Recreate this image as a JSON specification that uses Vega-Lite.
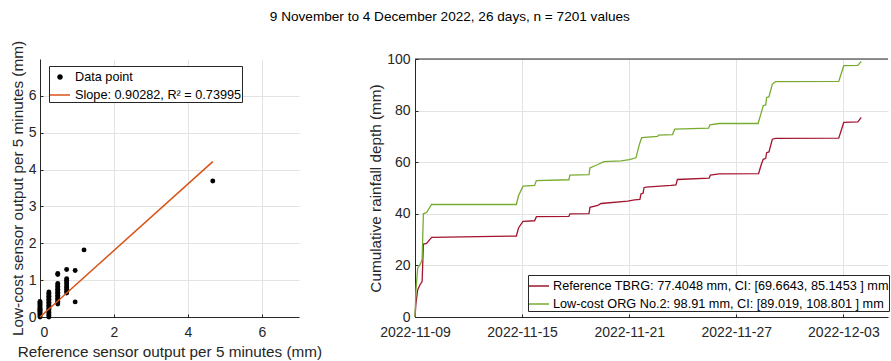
{
  "$schema": "https://vega.github.io/schema/vega-lite/v6.json",
  "background": "white",
  "padding": {"left": 10, "top": 9, "right": 0, "bottom": 0},
  "title": {"text": "9 November to 4 December 2022, 26 days, n = 7201 values", "fontSize": 13.6, "fontWeight": "normal", "color": "#000000", "anchor": "middle", "offset": 17},
  "config": {
    "font": "Liberation Sans",
    "view": {"stroke": null},
    "axis": {"labelFont": "Liberation Sans", "labelFontSize": 14, "labelColor": "#262626", "titleFont": "Liberation Sans", "titleFontSize": 15.3, "titleFontWeight": "normal", "titleColor": "#262626", "domainColor": "#262626", "domainWidth": 1, "gridColor": "#e3e3e3", "gridWidth": 1, "tickColor": "#262626", "tickSize": -3, "labelPadding": 8},
    "legend": {"labelFont": "Liberation Sans", "labelFontSize": 12.7, "labelColor": "#000000", "labelLimit": 600, "strokeColor": "#262626", "fillColor": "#ffffff", "padding": 0, "cornerRadius": 0, "symbolStrokeWidth": 1.5}
  },
  "datasets": {
    "scatter": [
      {"ref": 0, "low": 0}, {"ref": 0, "low": 0.03}, {"ref": 0, "low": 0.06}, {"ref": 0, "low": 0.09}, {"ref": 0, "low": 0.12}, {"ref": 0, "low": 0.15}, {"ref": 0, "low": 0.18}, {"ref": 0, "low": 0.21}, {"ref": 0, "low": 0.24}, {"ref": 0, "low": 0.27}, {"ref": 0, "low": 0.3}, {"ref": 0, "low": 0.33}, {"ref": 0, "low": 0.36}, {"ref": 0, "low": 0.39}, {"ref": 0, "low": 0.42},
      {"ref": 0.24, "low": 0}, {"ref": 0.24, "low": 0.04}, {"ref": 0.24, "low": 0.08}, {"ref": 0.24, "low": 0.12}, {"ref": 0.24, "low": 0.16}, {"ref": 0.24, "low": 0.2}, {"ref": 0.24, "low": 0.24}, {"ref": 0.24, "low": 0.28}, {"ref": 0.24, "low": 0.32}, {"ref": 0.24, "low": 0.36}, {"ref": 0.24, "low": 0.4}, {"ref": 0.24, "low": 0.44}, {"ref": 0.24, "low": 0.48}, {"ref": 0.24, "low": 0.52}, {"ref": 0.24, "low": 0.56}, {"ref": 0.24, "low": 0.6}, {"ref": 0.24, "low": 0.64}, {"ref": 0.24, "low": 0.68},
      {"ref": 0.48, "low": 0.35}, {"ref": 0.48, "low": 0.39}, {"ref": 0.48, "low": 0.43}, {"ref": 0.48, "low": 0.47}, {"ref": 0.48, "low": 0.51}, {"ref": 0.48, "low": 0.55}, {"ref": 0.48, "low": 0.59}, {"ref": 0.48, "low": 0.63}, {"ref": 0.48, "low": 0.67}, {"ref": 0.48, "low": 0.71}, {"ref": 0.48, "low": 0.75}, {"ref": 0.48, "low": 0.79}, {"ref": 0.48, "low": 0.83}, {"ref": 0.48, "low": 0.87}, {"ref": 0.48, "low": 0.91}, {"ref": 0.48, "low": 1.15}, {"ref": 0.48, "low": 1.18},
      {"ref": 0.72, "low": 0.65}, {"ref": 0.72, "low": 0.7}, {"ref": 0.72, "low": 0.75}, {"ref": 0.72, "low": 0.8}, {"ref": 0.72, "low": 0.85}, {"ref": 0.72, "low": 0.9}, {"ref": 0.72, "low": 0.95}, {"ref": 0.72, "low": 1.0}, {"ref": 0.72, "low": 1.04}, {"ref": 0.72, "low": 1.29},
      {"ref": 0.95, "low": 0.41}, {"ref": 0.95, "low": 1.26},
      {"ref": 1.19, "low": 1.82},
      {"ref": 4.67, "low": 3.69}
    ],
    "fit": [
      {"ref": 0, "low": 0},
      {"ref": 4.67, "low": 4.216}
    ],
    "cum": [
      {"t": "2022-11-09T00:00", "v": 0, "gauge": "Reference TBRG: 77.4048 mm, CI: [69.6643, 85.1453 ] mm"},
      {"t": "2022-11-09T01:12", "v": 5, "gauge": "Reference TBRG: 77.4048 mm, CI: [69.6643, 85.1453 ] mm"},
      {"t": "2022-11-09T03:36", "v": 10.5, "gauge": "Reference TBRG: 77.4048 mm, CI: [69.6643, 85.1453 ] mm"},
      {"t": "2022-11-09T06:43", "v": 12.5, "gauge": "Reference TBRG: 77.4048 mm, CI: [69.6643, 85.1453 ] mm"},
      {"t": "2022-11-09T08:53", "v": 13.4, "gauge": "Reference TBRG: 77.4048 mm, CI: [69.6643, 85.1453 ] mm"},
      {"t": "2022-11-09T09:36", "v": 13.8, "gauge": "Reference TBRG: 77.4048 mm, CI: [69.6643, 85.1453 ] mm"},
      {"t": "2022-11-09T11:17", "v": 28.3, "gauge": "Reference TBRG: 77.4048 mm, CI: [69.6643, 85.1453 ] mm"},
      {"t": "2022-11-09T15:36", "v": 28.5, "gauge": "Reference TBRG: 77.4048 mm, CI: [69.6643, 85.1453 ] mm"},
      {"t": "2022-11-09T22:19", "v": 30.9, "gauge": "Reference TBRG: 77.4048 mm, CI: [69.6643, 85.1453 ] mm"},
      {"t": "2022-11-14T16:19", "v": 31.4, "gauge": "Reference TBRG: 77.4048 mm, CI: [69.6643, 85.1453 ] mm"},
      {"t": "2022-11-14T19:12", "v": 34.5, "gauge": "Reference TBRG: 77.4048 mm, CI: [69.6643, 85.1453 ] mm"},
      {"t": "2022-11-15T01:12", "v": 37.1, "gauge": "Reference TBRG: 77.4048 mm, CI: [69.6643, 85.1453 ] mm"},
      {"t": "2022-11-15T16:48", "v": 37.3, "gauge": "Reference TBRG: 77.4048 mm, CI: [69.6643, 85.1453 ] mm"},
      {"t": "2022-11-15T19:12", "v": 38.9, "gauge": "Reference TBRG: 77.4048 mm, CI: [69.6643, 85.1453 ] mm"},
      {"t": "2022-11-17T14:53", "v": 39.0, "gauge": "Reference TBRG: 77.4048 mm, CI: [69.6643, 85.1453 ] mm"},
      {"t": "2022-11-17T16:19", "v": 40.0, "gauge": "Reference TBRG: 77.4048 mm, CI: [69.6643, 85.1453 ] mm"},
      {"t": "2022-11-18T18:00", "v": 40.1, "gauge": "Reference TBRG: 77.4048 mm, CI: [69.6643, 85.1453 ] mm"},
      {"t": "2022-11-18T19:12", "v": 42.5, "gauge": "Reference TBRG: 77.4048 mm, CI: [69.6643, 85.1453 ] mm"},
      {"t": "2022-11-19T05:46", "v": 43.3, "gauge": "Reference TBRG: 77.4048 mm, CI: [69.6643, 85.1453 ] mm"},
      {"t": "2022-11-19T10:19", "v": 44.0, "gauge": "Reference TBRG: 77.4048 mm, CI: [69.6643, 85.1453 ] mm"},
      {"t": "2022-11-20T22:05", "v": 44.9, "gauge": "Reference TBRG: 77.4048 mm, CI: [69.6643, 85.1453 ] mm"},
      {"t": "2022-11-21T06:58", "v": 45.4, "gauge": "Reference TBRG: 77.4048 mm, CI: [69.6643, 85.1453 ] mm"},
      {"t": "2022-11-21T14:24", "v": 45.6, "gauge": "Reference TBRG: 77.4048 mm, CI: [69.6643, 85.1453 ] mm"},
      {"t": "2022-11-21T15:50", "v": 47.7, "gauge": "Reference TBRG: 77.4048 mm, CI: [69.6643, 85.1453 ] mm"},
      {"t": "2022-11-21T18:43", "v": 48.0, "gauge": "Reference TBRG: 77.4048 mm, CI: [69.6643, 85.1453 ] mm"},
      {"t": "2022-11-21T19:55", "v": 50.1, "gauge": "Reference TBRG: 77.4048 mm, CI: [69.6643, 85.1453 ] mm"},
      {"t": "2022-11-21T22:34", "v": 50.3, "gauge": "Reference TBRG: 77.4048 mm, CI: [69.6643, 85.1453 ] mm"},
      {"t": "2022-11-23T08:10", "v": 51.0, "gauge": "Reference TBRG: 77.4048 mm, CI: [69.6643, 85.1453 ] mm"},
      {"t": "2022-11-23T14:53", "v": 51.2, "gauge": "Reference TBRG: 77.4048 mm, CI: [69.6643, 85.1453 ] mm"},
      {"t": "2022-11-23T16:48", "v": 53.3, "gauge": "Reference TBRG: 77.4048 mm, CI: [69.6643, 85.1453 ] mm"},
      {"t": "2022-11-25T11:31", "v": 53.8, "gauge": "Reference TBRG: 77.4048 mm, CI: [69.6643, 85.1453 ] mm"},
      {"t": "2022-11-25T13:12", "v": 55.0, "gauge": "Reference TBRG: 77.4048 mm, CI: [69.6643, 85.1453 ] mm"},
      {"t": "2022-11-26T00:58", "v": 55.5, "gauge": "Reference TBRG: 77.4048 mm, CI: [69.6643, 85.1453 ] mm"},
      {"t": "2022-11-28T06:00", "v": 55.6, "gauge": "Reference TBRG: 77.4048 mm, CI: [69.6643, 85.1453 ] mm"},
      {"t": "2022-11-28T09:36", "v": 59.1, "gauge": "Reference TBRG: 77.4048 mm, CI: [69.6643, 85.1453 ] mm"},
      {"t": "2022-11-28T12:14", "v": 61.1, "gauge": "Reference TBRG: 77.4048 mm, CI: [69.6643, 85.1453 ] mm"},
      {"t": "2022-11-28T15:36", "v": 61.5, "gauge": "Reference TBRG: 77.4048 mm, CI: [69.6643, 85.1453 ] mm"},
      {"t": "2022-11-28T16:48", "v": 63.7, "gauge": "Reference TBRG: 77.4048 mm, CI: [69.6643, 85.1453 ] mm"},
      {"t": "2022-11-28T19:55", "v": 64.0, "gauge": "Reference TBRG: 77.4048 mm, CI: [69.6643, 85.1453 ] mm"},
      {"t": "2022-11-29T00:29", "v": 68.9, "gauge": "Reference TBRG: 77.4048 mm, CI: [69.6643, 85.1453 ] mm"},
      {"t": "2022-11-29T04:48", "v": 69.2, "gauge": "Reference TBRG: 77.4048 mm, CI: [69.6643, 85.1453 ] mm"},
      {"t": "2022-12-02T17:46", "v": 69.3, "gauge": "Reference TBRG: 77.4048 mm, CI: [69.6643, 85.1453 ] mm"},
      {"t": "2022-12-03T00:29", "v": 75.4, "gauge": "Reference TBRG: 77.4048 mm, CI: [69.6643, 85.1453 ] mm"},
      {"t": "2022-12-03T19:26", "v": 75.6, "gauge": "Reference TBRG: 77.4048 mm, CI: [69.6643, 85.1453 ] mm"},
      {"t": "2022-12-04T00:00", "v": 77.4, "gauge": "Reference TBRG: 77.4048 mm, CI: [69.6643, 85.1453 ] mm"},
      {"t": "2022-11-09T00:00", "v": 0, "gauge": "Low-cost ORG No.2: 98.91 mm, CI: [89.019, 108.801 ] mm"},
      {"t": "2022-11-09T01:12", "v": 10, "gauge": "Low-cost ORG No.2: 98.91 mm, CI: [89.019, 108.801 ] mm"},
      {"t": "2022-11-09T03:36", "v": 19, "gauge": "Low-cost ORG No.2: 98.91 mm, CI: [89.019, 108.801 ] mm"},
      {"t": "2022-11-09T06:43", "v": 20.3, "gauge": "Low-cost ORG No.2: 98.91 mm, CI: [89.019, 108.801 ] mm"},
      {"t": "2022-11-09T08:53", "v": 21.6, "gauge": "Low-cost ORG No.2: 98.91 mm, CI: [89.019, 108.801 ] mm"},
      {"t": "2022-11-09T09:36", "v": 22.5, "gauge": "Low-cost ORG No.2: 98.91 mm, CI: [89.019, 108.801 ] mm"},
      {"t": "2022-11-09T11:17", "v": 40.0, "gauge": "Low-cost ORG No.2: 98.91 mm, CI: [89.019, 108.801 ] mm"},
      {"t": "2022-11-09T15:36", "v": 40.5, "gauge": "Low-cost ORG No.2: 98.91 mm, CI: [89.019, 108.801 ] mm"},
      {"t": "2022-11-09T22:19", "v": 43.6, "gauge": "Low-cost ORG No.2: 98.91 mm, CI: [89.019, 108.801 ] mm"},
      {"t": "2022-11-14T16:19", "v": 43.6, "gauge": "Low-cost ORG No.2: 98.91 mm, CI: [89.019, 108.801 ] mm"},
      {"t": "2022-11-14T19:12", "v": 47.0, "gauge": "Low-cost ORG No.2: 98.91 mm, CI: [89.019, 108.801 ] mm"},
      {"t": "2022-11-15T01:12", "v": 50.7, "gauge": "Low-cost ORG No.2: 98.91 mm, CI: [89.019, 108.801 ] mm"},
      {"t": "2022-11-15T16:48", "v": 51.0, "gauge": "Low-cost ORG No.2: 98.91 mm, CI: [89.019, 108.801 ] mm"},
      {"t": "2022-11-15T19:12", "v": 52.9, "gauge": "Low-cost ORG No.2: 98.91 mm, CI: [89.019, 108.801 ] mm"},
      {"t": "2022-11-17T14:53", "v": 53.2, "gauge": "Low-cost ORG No.2: 98.91 mm, CI: [89.019, 108.801 ] mm"},
      {"t": "2022-11-17T16:19", "v": 55.0, "gauge": "Low-cost ORG No.2: 98.91 mm, CI: [89.019, 108.801 ] mm"},
      {"t": "2022-11-18T18:00", "v": 55.2, "gauge": "Low-cost ORG No.2: 98.91 mm, CI: [89.019, 108.801 ] mm"},
      {"t": "2022-11-18T19:12", "v": 57.8, "gauge": "Low-cost ORG No.2: 98.91 mm, CI: [89.019, 108.801 ] mm"},
      {"t": "2022-11-19T05:46", "v": 59.1, "gauge": "Low-cost ORG No.2: 98.91 mm, CI: [89.019, 108.801 ] mm"},
      {"t": "2022-11-19T13:55", "v": 60.2, "gauge": "Low-cost ORG No.2: 98.91 mm, CI: [89.019, 108.801 ] mm"},
      {"t": "2022-11-20T13:12", "v": 60.5, "gauge": "Low-cost ORG No.2: 98.91 mm, CI: [89.019, 108.801 ] mm"},
      {"t": "2022-11-21T00:14", "v": 61.0, "gauge": "Low-cost ORG No.2: 98.91 mm, CI: [89.019, 108.801 ] mm"},
      {"t": "2022-11-21T09:07", "v": 61.7, "gauge": "Low-cost ORG No.2: 98.91 mm, CI: [89.019, 108.801 ] mm"},
      {"t": "2022-11-21T13:41", "v": 66.9, "gauge": "Low-cost ORG No.2: 98.91 mm, CI: [89.019, 108.801 ] mm"},
      {"t": "2022-11-21T16:48", "v": 69.5, "gauge": "Low-cost ORG No.2: 98.91 mm, CI: [89.019, 108.801 ] mm"},
      {"t": "2022-11-22T14:10", "v": 70.0, "gauge": "Low-cost ORG No.2: 98.91 mm, CI: [89.019, 108.801 ] mm"},
      {"t": "2022-11-22T15:36", "v": 70.5, "gauge": "Low-cost ORG No.2: 98.91 mm, CI: [89.019, 108.801 ] mm"},
      {"t": "2022-11-23T10:19", "v": 70.7, "gauge": "Low-cost ORG No.2: 98.91 mm, CI: [89.019, 108.801 ] mm"},
      {"t": "2022-11-23T13:12", "v": 72.8, "gauge": "Low-cost ORG No.2: 98.91 mm, CI: [89.019, 108.801 ] mm"},
      {"t": "2022-11-25T10:48", "v": 73.2, "gauge": "Low-cost ORG No.2: 98.91 mm, CI: [89.019, 108.801 ] mm"},
      {"t": "2022-11-25T12:29", "v": 74.5, "gauge": "Low-cost ORG No.2: 98.91 mm, CI: [89.019, 108.801 ] mm"},
      {"t": "2022-11-26T00:58", "v": 75.0, "gauge": "Low-cost ORG No.2: 98.91 mm, CI: [89.019, 108.801 ] mm"},
      {"t": "2022-11-28T05:17", "v": 75.0, "gauge": "Low-cost ORG No.2: 98.91 mm, CI: [89.019, 108.801 ] mm"},
      {"t": "2022-11-28T09:36", "v": 79.2, "gauge": "Low-cost ORG No.2: 98.91 mm, CI: [89.019, 108.801 ] mm"},
      {"t": "2022-11-28T12:14", "v": 81.9, "gauge": "Low-cost ORG No.2: 98.91 mm, CI: [89.019, 108.801 ] mm"},
      {"t": "2022-11-28T15:36", "v": 82.2, "gauge": "Low-cost ORG No.2: 98.91 mm, CI: [89.019, 108.801 ] mm"},
      {"t": "2022-11-28T16:48", "v": 85.1, "gauge": "Low-cost ORG No.2: 98.91 mm, CI: [89.019, 108.801 ] mm"},
      {"t": "2022-11-28T19:55", "v": 85.3, "gauge": "Low-cost ORG No.2: 98.91 mm, CI: [89.019, 108.801 ] mm"},
      {"t": "2022-11-29T00:29", "v": 90.3, "gauge": "Low-cost ORG No.2: 98.91 mm, CI: [89.019, 108.801 ] mm"},
      {"t": "2022-11-29T04:48", "v": 91.2, "gauge": "Low-cost ORG No.2: 98.91 mm, CI: [89.019, 108.801 ] mm"},
      {"t": "2022-12-02T17:46", "v": 91.3, "gauge": "Low-cost ORG No.2: 98.91 mm, CI: [89.019, 108.801 ] mm"},
      {"t": "2022-12-03T00:29", "v": 97.4, "gauge": "Low-cost ORG No.2: 98.91 mm, CI: [89.019, 108.801 ] mm"},
      {"t": "2022-12-03T19:26", "v": 97.5, "gauge": "Low-cost ORG No.2: 98.91 mm, CI: [89.019, 108.801 ] mm"},
      {"t": "2022-12-04T00:00", "v": 99.1, "gauge": "Low-cost ORG No.2: 98.91 mm, CI: [89.019, 108.801 ] mm"}
    ],
    "legendLeft": [
      {"series": "Data point"},
      {"series": "Slope: 0.90282, R² = 0.73995"}
    ]
  },
  "hconcat": [
    {
      "width": 259,
      "height": 258,
      "layer": [
        {
          "data": {"name": "scatter"},
          "mark": {"type": "point", "filled": true, "size": 24, "opacity": 1, "color": "#000000"},
          "encoding": {
            "x": {"field": "ref", "type": "quantitative", "scale": {"domain": [0, 7], "nice": false, "zero": false}, "axis": {"values": [0, 2, 4, 6], "title": "Reference sensor output per 5 minutes (mm)", "labelPadding": 11, "titlePadding": 5}},
            "y": {"field": "low", "type": "quantitative", "scale": {"domain": [0, 7], "nice": false, "zero": false}, "axis": {"values": [0, 1, 2, 3, 4, 5, 6], "title": "Low-cost sensor output per 5 minutes (mm)", "labelPadding": 7, "titlePadding": 3}}
          }
        },
        {
          "data": {"name": "fit"},
          "mark": {"type": "line", "strokeWidth": 1.5, "color": "#D95319"},
          "encoding": {
            "x": {"field": "ref", "type": "quantitative"},
            "y": {"field": "low", "type": "quantitative"}
          }
        },
        {
          "data": {"name": "legendLeft"},
          "mark": {"type": "point", "opacity": 0, "strokeWidth": 1.5},
          "encoding": {
            "fill": {"field": "series", "type": "nominal", "sort": null,
              "scale": {"domain": ["Data point", "Slope: 0.90282, R² = 0.73995"], "range": ["#000000", "transparent"]},
              "legend": {"title": null, "orient": "none", "legendX": 9, "legendY": 7, "rowPadding": 0, "padding": 0, "symbolSize": 400, "symbolOpacity": 1, "labelOffset": 4}},
            "stroke": {"field": "series", "type": "nominal", "sort": null,
              "scale": {"domain": ["Data point", "Slope: 0.90282, R² = 0.73995"], "range": ["transparent", "#D95319"]},
              "legend": {"title": null, "orient": "none", "legendX": 9, "legendY": 7, "rowPadding": 0, "padding": 0, "symbolSize": 400, "symbolOpacity": 1, "labelOffset": 4}},
            "shape": {"field": "series", "type": "nominal", "sort": null,
              "scale": {"domain": ["Data point", "Slope: 0.90282, R² = 0.73995"], "range": ["M0,-0.28A0.28,0.28 0 1,1 0,0.28A0.28,0.28 0 1,1 0,-0.28Z", "stroke"]},
              "legend": {"title": null, "orient": "none", "legendX": 9, "legendY": 7, "rowPadding": 0, "padding": 0, "symbolSize": 400, "symbolOpacity": 1, "labelOffset": 4}}
          }
        }
      ]
    },
    {
      "width": 473,
      "height": 258,
      "layer": [
        {
          "data": {"name": "cum"},
          "mark": {"type": "line", "strokeWidth": 1.3, "interpolate": "linear"},
          "encoding": {
            "x": {"field": "t", "type": "temporal", "scale": {"domain": [{"year": 2022, "month": 11, "date": 9}, {"year": 2022, "month": 12, "date": 5, "hours": 12}]},
              "axis": {"values": [{"year": 2022, "month": 11, "date": 9}, {"year": 2022, "month": 11, "date": 15}, {"year": 2022, "month": 11, "date": 21}, {"year": 2022, "month": 11, "date": 27}, {"year": 2022, "month": 12, "date": 3}], "format": "%Y-%m-%d", "title": null, "labelFlush": false, "labelOverlap": false, "labelPadding": 11}},
            "y": {"field": "v", "type": "quantitative", "scale": {"domain": [0, 100], "nice": false}, "axis": {"values": [0, 20, 40, 60, 80, 100], "title": "Cumulative rainfall depth (mm)", "labelPadding": 8, "titlePadding": 3}},
            "color": {"field": "gauge", "type": "nominal", "sort": null,
              "scale": {"domain": ["Reference TBRG: 77.4048 mm, CI: [69.6643, 85.1453 ] mm", "Low-cost ORG No.2: 98.91 mm, CI: [89.019, 108.801 ] mm"], "range": ["#A2142F", "#77AC30"]},
              "legend": {"title": null, "orient": "none", "legendX": 113, "legendY": 216, "symbolSize": 400, "rowPadding": -3.5, "padding": 0, "labelOffset": 3}}
          }
        },
        {
          "data": {"values": [{"top": 100}]},
          "mark": {"type": "rule", "color": "#262626", "strokeWidth": 1},
          "encoding": {"y": {"field": "top", "type": "quantitative"}}
        }
      ]
    }
  ],
  "spacing": 116,
  "bounds": "flush",
  "resolve": {"scale": {"color": "independent"}, "legend": {"color": "independent"}}
}
